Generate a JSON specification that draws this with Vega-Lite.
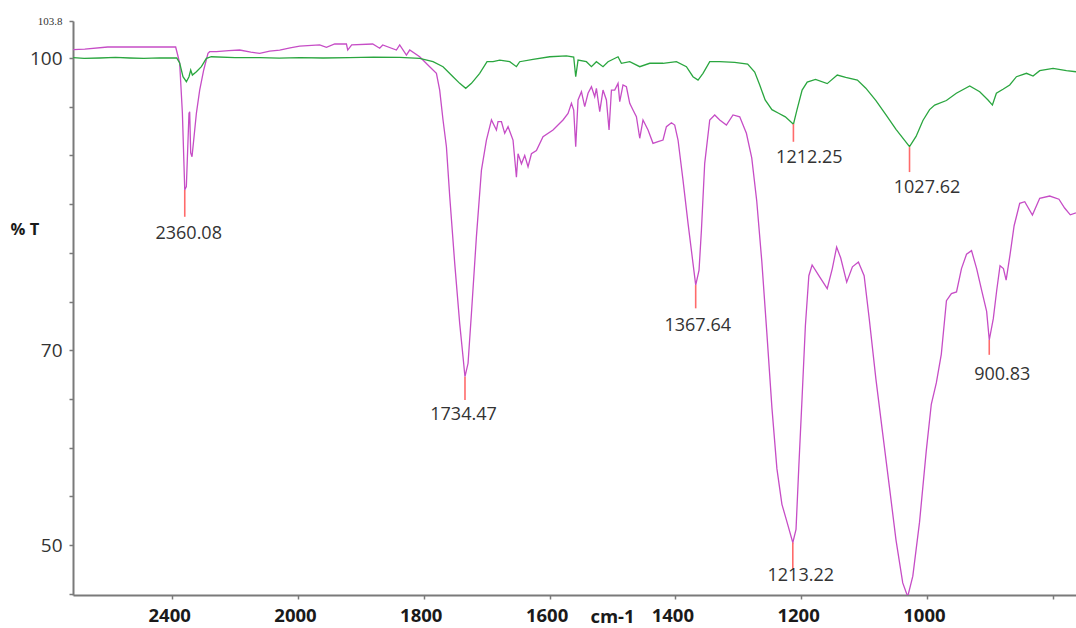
{
  "$schema": "https://vega.github.io/schema/vega-lite/v6.json",
  "width": 1003,
  "height": 574,
  "autosize": "none",
  "padding": {"left": 73, "top": 21, "right": 0, "bottom": 33},
  "background": "white",
  "config": {"view": {"stroke": null}},
  "datasets": {
    "spectra": [
      {"wn":2715,"T":100.87,"sample":"A"},{"wn":2678,"T":100.92,"sample":"A"},{"wn":2605,"T":101.13,"sample":"A"},{"wn":2389,"T":101.13,"sample":"A"},{"wn":2382.5,"T":100.31,"sample":"A"},{"wn":2376.2,"T":99.46,"sample":"A"},{"wn":2367.6,"T":94.35,"sample":"A"},{"wn":2360.1,"T":86.45,"sample":"A"},{"wn":2355,"T":86.8,"sample":"A"},{"wn":2346.6,"T":94.32,"sample":"A"},{"wn":2344.4,"T":94.49,"sample":"A"},{"wn":2341.2,"T":90.25,"sample":"A"},{"wn":2337,"T":89.87,"sample":"A"},{"wn":2331.6,"T":91.58,"sample":"A"},{"wn":2323,"T":94.35,"sample":"A"},{"wn":2312.6,"T":96.71,"sample":"A"},{"wn":2299.8,"T":98.77,"sample":"A"},{"wn":2286.2,"T":100.48,"sample":"A"},{"wn":2280.8,"T":100.65,"sample":"A"},{"wn":2259.5,"T":100.65,"sample":"A"},{"wn":2220,"T":100.75,"sample":"A"},{"wn":2185.4,"T":100.82,"sample":"A"},{"wn":2150,"T":100.6,"sample":"A"},{"wn":2121.8,"T":100.48,"sample":"A"},{"wn":2090,"T":100.7,"sample":"A"},{"wn":2058.2,"T":100.82,"sample":"A"},{"wn":2025,"T":101.05,"sample":"A"},{"wn":1997.3,"T":101.23,"sample":"A"},{"wn":1965.5,"T":101.34,"sample":"A"},{"wn":1954.8,"T":101.1,"sample":"A"},{"wn":1941.6,"T":101.44,"sample":"A"},{"wn":1923,"T":101.44,"sample":"A"},{"wn":1920.9,"T":100.82,"sample":"A"},{"wn":1914.6,"T":101.34,"sample":"A"},{"wn":1881.2,"T":101.44,"sample":"A"},{"wn":1870.1,"T":101.0,"sample":"A"},{"wn":1865.3,"T":101.34,"sample":"A"},{"wn":1843.5,"T":100.82,"sample":"A"},{"wn":1838.3,"T":101.34,"sample":"A"},{"wn":1827.6,"T":100.31,"sample":"A"},{"wn":1822.4,"T":100.82,"sample":"A"},{"wn":1806.5,"T":100.13,"sample":"A"},{"wn":1790.6,"T":99.11,"sample":"A"},{"wn":1779.9,"T":98.43,"sample":"A"},{"wn":1774.7,"T":96.71,"sample":"A"},{"wn":1769.4,"T":93.64,"sample":"A"},{"wn":1764,"T":90.89,"sample":"A"},{"wn":1758.7,"T":85.76,"sample":"A"},{"wn":1750.8,"T":78.92,"sample":"A"},{"wn":1742.9,"T":72.76,"sample":"A"},{"wn":1737.6,"T":69.33,"sample":"A"},{"wn":1734.5,"T":67.28,"sample":"A"},{"wn":1729.6,"T":68.66,"sample":"A"},{"wn":1724.2,"T":73.79,"sample":"A"},{"wn":1716.3,"T":81.66,"sample":"A"},{"wn":1708.3,"T":88.5,"sample":"A"},{"wn":1700.4,"T":91.58,"sample":"A"},{"wn":1692.4,"T":93.64,"sample":"A"},{"wn":1684.5,"T":92.6,"sample":"A"},{"wn":1681.9,"T":93.46,"sample":"A"},{"wn":1676.5,"T":93.46,"sample":"A"},{"wn":1671.3,"T":92.27,"sample":"A"},{"wn":1666,"T":92.95,"sample":"A"},{"wn":1658.1,"T":91.58,"sample":"A"},{"wn":1652.7,"T":87.77,"sample":"A"},{"wn":1650.1,"T":90.17,"sample":"A"},{"wn":1644.7,"T":89.14,"sample":"A"},{"wn":1639.5,"T":90.0,"sample":"A"},{"wn":1634.2,"T":88.84,"sample":"A"},{"wn":1628.8,"T":90.17,"sample":"A"},{"wn":1620.9,"T":90.51,"sample":"A"},{"wn":1610.4,"T":91.92,"sample":"A"},{"wn":1594.5,"T":92.61,"sample":"A"},{"wn":1578.6,"T":93.64,"sample":"A"},{"wn":1570.6,"T":94.32,"sample":"A"},{"wn":1565.2,"T":95.35,"sample":"A"},{"wn":1561.6,"T":94.66,"sample":"A"},{"wn":1558.4,"T":90.89,"sample":"A"},{"wn":1554.7,"T":95.69,"sample":"A"},{"wn":1549.3,"T":96.54,"sample":"A"},{"wn":1544.1,"T":95.0,"sample":"A"},{"wn":1538.8,"T":96.38,"sample":"A"},{"wn":1533.4,"T":97.05,"sample":"A"},{"wn":1528.2,"T":96.03,"sample":"A"},{"wn":1525.5,"T":96.89,"sample":"A"},{"wn":1520.2,"T":94.49,"sample":"A"},{"wn":1515,"T":96.71,"sample":"A"},{"wn":1509.6,"T":95.69,"sample":"A"},{"wn":1505.4,"T":92.61,"sample":"A"},{"wn":1501.6,"T":96.71,"sample":"A"},{"wn":1496.4,"T":96.71,"sample":"A"},{"wn":1491.1,"T":97.4,"sample":"A"},{"wn":1488.4,"T":95.51,"sample":"A"},{"wn":1483.2,"T":97.23,"sample":"A"},{"wn":1477.8,"T":97.05,"sample":"A"},{"wn":1472.5,"T":95.35,"sample":"A"},{"wn":1467.3,"T":94.66,"sample":"A"},{"wn":1461.9,"T":93.97,"sample":"A"},{"wn":1456.6,"T":91.76,"sample":"A"},{"wn":1451.4,"T":93.64,"sample":"A"},{"wn":1443.4,"T":92.61,"sample":"A"},{"wn":1435.5,"T":91.24,"sample":"A"},{"wn":1427.5,"T":91.41,"sample":"A"},{"wn":1419.6,"T":91.58,"sample":"A"},{"wn":1414.2,"T":92.95,"sample":"A"},{"wn":1406.2,"T":93.36,"sample":"A"},{"wn":1401,"T":93.12,"sample":"A"},{"wn":1395.7,"T":91.58,"sample":"A"},{"wn":1387.8,"T":87.47,"sample":"A"},{"wn":1379.8,"T":83.03,"sample":"A"},{"wn":1371.9,"T":78.92,"sample":"A"},{"wn":1367.6,"T":76.69,"sample":"A"},{"wn":1362.3,"T":78.23,"sample":"A"},{"wn":1358.5,"T":82.34,"sample":"A"},{"wn":1353.3,"T":89.19,"sample":"A"},{"wn":1345.3,"T":93.64,"sample":"A"},{"wn":1337.4,"T":94.15,"sample":"A"},{"wn":1329.4,"T":93.64,"sample":"A"},{"wn":1318.8,"T":93.12,"sample":"A"},{"wn":1308.3,"T":94.15,"sample":"A"},{"wn":1297.6,"T":93.97,"sample":"A"},{"wn":1287,"T":92.27,"sample":"A"},{"wn":1278.5,"T":89.74,"sample":"A"},{"wn":1270.6,"T":85.35,"sample":"A"},{"wn":1262.5,"T":79.12,"sample":"A"},{"wn":1254.5,"T":71.78,"sample":"A"},{"wn":1246.4,"T":64.08,"sample":"A"},{"wn":1238.5,"T":57.84,"sample":"A"},{"wn":1230.5,"T":54.18,"sample":"A"},{"wn":1222.4,"T":52.35,"sample":"A"},{"wn":1213.2,"T":50.25,"sample":"A"},{"wn":1208.1,"T":51.61,"sample":"A"},{"wn":1203.8,"T":57.84,"sample":"A"},{"wn":1198.4,"T":65.2,"sample":"A"},{"wn":1193.2,"T":72.51,"sample":"A"},{"wn":1187.7,"T":77.65,"sample":"A"},{"wn":1182.5,"T":78.75,"sample":"A"},{"wn":1171.8,"T":77.65,"sample":"A"},{"wn":1158.5,"T":76.32,"sample":"A"},{"wn":1150.4,"T":78.38,"sample":"A"},{"wn":1143.5,"T":80.59,"sample":"A"},{"wn":1137,"T":79.47,"sample":"A"},{"wn":1127.5,"T":76.99,"sample":"A"},{"wn":1118.4,"T":78.56,"sample":"A"},{"wn":1108.9,"T":79.05,"sample":"A"},{"wn":1099.8,"T":77.65,"sample":"A"},{"wn":1091.7,"T":73.24,"sample":"A"},{"wn":1081,"T":67.01,"sample":"A"},{"wn":1070.4,"T":61.51,"sample":"A"},{"wn":1059.7,"T":56.02,"sample":"A"},{"wn":1049.1,"T":50.51,"sample":"A"},{"wn":1038.4,"T":46.11,"sample":"A"},{"wn":1030.5,"T":44.7,"sample":"A"},{"wn":1022.4,"T":46.8,"sample":"A"},{"wn":1011.7,"T":52.35,"sample":"A"},{"wn":1001,"T":59.67,"sample":"A"},{"wn":993,"T":64.45,"sample":"A"},{"wn":985,"T":66.64,"sample":"A"},{"wn":977.1,"T":69.58,"sample":"A"},{"wn":968.9,"T":75.08,"sample":"A"},{"wn":961,"T":75.81,"sample":"A"},{"wn":952.9,"T":75.99,"sample":"A"},{"wn":945,"T":78.38,"sample":"A"},{"wn":937,"T":79.85,"sample":"A"},{"wn":929,"T":80.22,"sample":"A"},{"wn":920.9,"T":78.38,"sample":"A"},{"wn":913,"T":76.18,"sample":"A"},{"wn":905,"T":73.98,"sample":"A"},{"wn":900.8,"T":71.05,"sample":"A"},{"wn":894.4,"T":73.24,"sample":"A"},{"wn":888.9,"T":76.18,"sample":"A"},{"wn":883.7,"T":78.68,"sample":"A"},{"wn":878.3,"T":78.38,"sample":"A"},{"wn":874,"T":77.2,"sample":"A"},{"wn":867.7,"T":79.85,"sample":"A"},{"wn":861.3,"T":82.78,"sample":"A"},{"wn":852.4,"T":85.08,"sample":"A"},{"wn":844.4,"T":85.25,"sample":"A"},{"wn":832.2,"T":83.88,"sample":"A"},{"wn":820.6,"T":85.6,"sample":"A"},{"wn":804.7,"T":85.83,"sample":"A"},{"wn":790,"T":85.5,"sample":"A"},{"wn":781,"T":84.6,"sample":"A"},{"wn":772,"T":83.9,"sample":"A"},{"wn":762.9,"T":84.1,"sample":"A"},
      {"wn":2715,"T":100.03,"sample":"B"},{"wn":2680,"T":99.97,"sample":"B"},{"wn":2630.5,"T":100.0,"sample":"B"},{"wn":2580,"T":100.06,"sample":"B"},{"wn":2535.1,"T":100.0,"sample":"B"},{"wn":2490,"T":99.96,"sample":"B"},{"wn":2439.7,"T":100.02,"sample":"B"},{"wn":2385.7,"T":100.0,"sample":"B"},{"wn":2376.2,"T":99.49,"sample":"B"},{"wn":2365.7,"T":98.08,"sample":"B"},{"wn":2354.9,"T":97.57,"sample":"B"},{"wn":2346.6,"T":98.08,"sample":"B"},{"wn":2341.2,"T":98.77,"sample":"B"},{"wn":2335.8,"T":98.25,"sample":"B"},{"wn":2323,"T":98.59,"sample":"B"},{"wn":2307.2,"T":99.11,"sample":"B"},{"wn":2291.3,"T":99.97,"sample":"B"},{"wn":2275.4,"T":100.13,"sample":"B"},{"wn":2200,"T":100.05,"sample":"B"},{"wn":2121.8,"T":100.05,"sample":"B"},{"wn":2060,"T":99.98,"sample":"B"},{"wn":1997.3,"T":100.05,"sample":"B"},{"wn":1960,"T":100.0,"sample":"B"},{"wn":1917.8,"T":100.05,"sample":"B"},{"wn":1880,"T":100.1,"sample":"B"},{"wn":1838.3,"T":100.07,"sample":"B"},{"wn":1806.5,"T":99.97,"sample":"B"},{"wn":1785.3,"T":99.62,"sample":"B"},{"wn":1769.4,"T":99.11,"sample":"B"},{"wn":1753.5,"T":98.08,"sample":"B"},{"wn":1742.9,"T":97.4,"sample":"B"},{"wn":1733.3,"T":96.89,"sample":"B"},{"wn":1724.2,"T":97.4,"sample":"B"},{"wn":1711.1,"T":98.43,"sample":"B"},{"wn":1699.4,"T":99.62,"sample":"B"},{"wn":1689.9,"T":99.62,"sample":"B"},{"wn":1679.2,"T":99.79,"sample":"B"},{"wn":1663.3,"T":99.62,"sample":"B"},{"wn":1652.7,"T":99.11,"sample":"B"},{"wn":1647.5,"T":99.62,"sample":"B"},{"wn":1626.3,"T":99.87,"sample":"B"},{"wn":1599.7,"T":100.13,"sample":"B"},{"wn":1573.2,"T":100.21,"sample":"B"},{"wn":1561.6,"T":100.1,"sample":"B"},{"wn":1558.4,"T":98.08,"sample":"B"},{"wn":1554.7,"T":99.79,"sample":"B"},{"wn":1541.4,"T":99.62,"sample":"B"},{"wn":1533.4,"T":99.11,"sample":"B"},{"wn":1525.5,"T":99.62,"sample":"B"},{"wn":1515,"T":99.11,"sample":"B"},{"wn":1507,"T":99.62,"sample":"B"},{"wn":1491.1,"T":100.13,"sample":"B"},{"wn":1485.8,"T":99.46,"sample":"B"},{"wn":1472.5,"T":99.62,"sample":"B"},{"wn":1456.6,"T":99.11,"sample":"B"},{"wn":1440.7,"T":99.46,"sample":"B"},{"wn":1419.6,"T":99.46,"sample":"B"},{"wn":1398.3,"T":99.62,"sample":"B"},{"wn":1382.4,"T":99.11,"sample":"B"},{"wn":1371.9,"T":98.08,"sample":"B"},{"wn":1363.9,"T":97.74,"sample":"B"},{"wn":1356,"T":98.43,"sample":"B"},{"wn":1345.3,"T":99.62,"sample":"B"},{"wn":1329.4,"T":99.62,"sample":"B"},{"wn":1305.6,"T":99.56,"sample":"B"},{"wn":1285,"T":99.38,"sample":"B"},{"wn":1273.8,"T":98.56,"sample":"B"},{"wn":1265.8,"T":97.23,"sample":"B"},{"wn":1257.2,"T":95.69,"sample":"B"},{"wn":1246.4,"T":94.7,"sample":"B"},{"wn":1235.8,"T":94.33,"sample":"B"},{"wn":1225.1,"T":93.96,"sample":"B"},{"wn":1212.2,"T":93.2,"sample":"B"},{"wn":1206.5,"T":94.7,"sample":"B"},{"wn":1198.4,"T":96.71,"sample":"B"},{"wn":1190.3,"T":97.53,"sample":"B"},{"wn":1177.1,"T":97.81,"sample":"B"},{"wn":1158.5,"T":97.37,"sample":"B"},{"wn":1142.5,"T":98.25,"sample":"B"},{"wn":1129.1,"T":98.0,"sample":"B"},{"wn":1110.5,"T":97.74,"sample":"B"},{"wn":1097.1,"T":96.9,"sample":"B"},{"wn":1081,"T":95.62,"sample":"B"},{"wn":1065,"T":94.15,"sample":"B"},{"wn":1049.1,"T":92.68,"sample":"B"},{"wn":1035.7,"T":91.58,"sample":"B"},{"wn":1027.6,"T":90.9,"sample":"B"},{"wn":1017.2,"T":91.95,"sample":"B"},{"wn":1006.3,"T":93.59,"sample":"B"},{"wn":995.7,"T":94.7,"sample":"B"},{"wn":987.6,"T":95.17,"sample":"B"},{"wn":969,"T":95.64,"sample":"B"},{"wn":953.2,"T":96.38,"sample":"B"},{"wn":931.9,"T":97.13,"sample":"B"},{"wn":916,"T":96.54,"sample":"B"},{"wn":902.8,"T":95.69,"sample":"B"},{"wn":895.8,"T":95.17,"sample":"B"},{"wn":889.5,"T":96.38,"sample":"B"},{"wn":879,"T":96.79,"sample":"B"},{"wn":868.3,"T":97.23,"sample":"B"},{"wn":857.6,"T":98.08,"sample":"B"},{"wn":841.7,"T":98.43,"sample":"B"},{"wn":831.2,"T":98.15,"sample":"B"},{"wn":820.6,"T":98.7,"sample":"B"},{"wn":799.4,"T":98.94,"sample":"B"},{"wn":778.1,"T":98.7,"sample":"B"},{"wn":762.9,"T":98.59,"sample":"B"}
    ],
    "marks": [
      {"wn":2360.08,"T":86.45,"T2":83.7},
      {"wn":1734.47,"T":67.28,"T2":64.89},
      {"wn":1367.64,"T":76.69,"T2":74.3},
      {"wn":1213.22,"T":50.25,"T2":47.57},
      {"wn":900.83,"T":71.05,"T2":69.53},
      {"wn":1212.25,"T":93.23,"T2":91.4},
      {"wn":1027.62,"T":90.85,"T2":88.29}
    ],
    "labels": [
      {"wn":2347.5,"T":81.93,"label":"2360.08"},
      {"wn":1736.8,"T":63.35,"label":"1734.47"},
      {"wn":1364.4,"T":72.5,"label":"1367.64"},
      {"wn":1200.6,"T":46.77,"label":"1213.22"},
      {"wn":880.1,"T":67.47,"label":"900.83"},
      {"wn":1186.9,"T":89.74,"label":"1212.25"},
      {"wn":999.8,"T":86.63,"label":"1027.62"}
    ]
  },
  "encoding": {
    "x": {
      "field": "wn", "type": "quantitative",
      "scale": {"domain": [2715.4, 2000, 762.9], "range": [0, 225, 1003], "nice": false, "zero": false},
      "axis": {
        "title": "cm-1", "values": [2400, 2000, 1800, 1600, 1400, 1200, 1000, 800],
        "labelExpr": "datum.value == 800 ? '' : format(datum.value, 'd')",
        "grid": false, "domainColor": "#7a7a7a", "domainWidth": 2, "tickColor": "#7a7a7a", "tickSize": 4, "tickWidth": 1.5,
        "labelFont": "Open Sans", "labelFontSize": 18.5, "labelFontWeight": "bold", "labelColor": "#1a1a1a",
        "labelPadding": 7, "labelOffset": -3, "labelFlush": false, "labelOverlap": false,
        "titleFont": "Open Sans", "titleFontSize": 18.5, "titleFontWeight": "bold", "titleColor": "#1a1a1a",
        "titleX": 539, "titleY": 21, "titleAlign": "center", "titleBaseline": "middle"
      }
    },
    "y": {
      "field": "T", "type": "quantitative",
      "scale": {"domain": [44.87, 103.8], "nice": false, "zero": false},
      "axis": {
        "title": "% T", "values": [45, 50, 55, 60, 65, 70, 75, 80, 85, 90, 95, 100, 103.8],
        "labelExpr": "datum.value == 103.8 ? '103.8' : ((datum.value == 100 || datum.value == 70 || datum.value == 50) ? format(datum.value, 'd') : '')",
        "grid": false, "domainColor": "#7a7a7a", "domainWidth": 2, "tickColor": "#7a7a7a", "tickSize": 4, "tickWidth": 1.5,
        "labelFont": {"condition": {"test": "datum.value == 103.8", "value": "Liberation Serif"}, "value": "Open Sans"},
        "labelFontSize": {"condition": {"test": "datum.value == 103.8", "value": 11}, "value": 19},
        "labelColor": "#333333", "labelPadding": 7, "labelFlush": false, "labelOverlap": false,
        "titleFont": "Open Sans", "titleFontSize": 16.5, "titleFontWeight": "bold", "titleColor": "#1a1a1a",
        "titleAngle": 0, "titleX": -63, "titleY": 208, "titleAlign": "left", "titleBaseline": "middle"
      }
    }
  },
  "layer": [
    {
      "data": {"name": "spectra"},
      "mark": {"type": "line", "strokeWidth": 1.3, "clip": true},
      "encoding": {
        "color": {"field": "sample", "type": "nominal", "scale": {"domain": ["B", "A"], "range": ["#2aa63f", "#c64dc6"]}, "legend": null}
      }
    },
    {
      "data": {"name": "marks"},
      "mark": {"type": "rule", "color": "#ff6b6b", "strokeWidth": 1.6},
      "encoding": {"y2": {"field": "T2"}}
    },
    {
      "data": {"name": "labels"},
      "mark": {"type": "text", "font": "Open Sans", "fontSize": 18, "color": "#333333", "align": "center", "baseline": "middle"},
      "encoding": {"text": {"field": "label", "type": "nominal"}}
    }
  ]
}
